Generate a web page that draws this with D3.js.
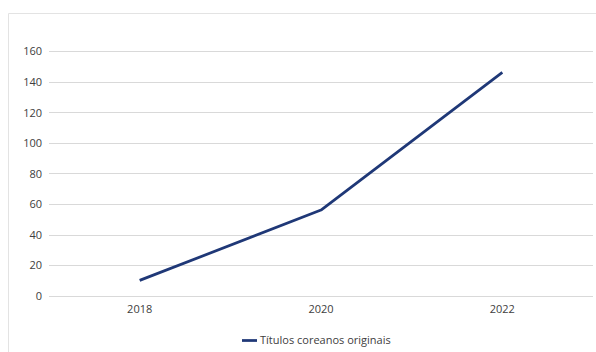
<!DOCTYPE html>
<html>
<head>
<meta charset="utf-8">
<script src="https://cdn.jsdelivr.net/npm/d3@7"></script>
<style>
html,body{margin:0;padding:0;background:#fff;}
svg{display:block;}
text{font-family:"Open Sans","Liberation Sans",sans-serif;fill:#404040;}
</style>
</head>
<body>
<svg id="chart" width="596" height="352"></svg>
<script>
const categories = ["2018", "2020", "2022"];
const values = [10, 56, 146];
const yTicks = [0, 20, 40, 60, 80, 100, 120, 140, 160];
const seriesName = "Títulos coreanos originais";

const svg = d3.select("#chart");

// chart area border
svg.append("path")
  .attr("d", "M8.5,352 L8.5,13.5 L596,13.5")
  .attr("fill", "none").attr("stroke", "#e3e3e3").attr("stroke-width", 1);

const x = d3.scaleBand().domain(categories).range([49, 593]);
const y = d3.scaleLinear().domain([0, 160]).range([295.7, 51]);

// gridlines
svg.append("g").selectAll("line").data(yTicks).join("line")
  .attr("x1", 49).attr("x2", 593)
  .attr("y1", d => Math.round(y(d)) + 0.5).attr("y2", d => Math.round(y(d)) + 0.5)
  .attr("stroke", "#d9d9d9").attr("stroke-width", 1);

// y axis
const yAxis = d3.axisLeft(y).tickValues(yTicks).tickSize(0).tickPadding(0);
const gy = svg.append("g").attr("transform", "translate(42,0)").call(yAxis);
gy.select(".domain").remove();
gy.selectAll("text").style("font-size", "11px").attr("fill", "#404040").attr("dy", "0.35em");

// x axis
const xAxis = d3.axisBottom(x).tickSize(0).tickPadding(0);
const gx = svg.append("g").attr("transform", "translate(0,305)").call(xAxis);
gx.select(".domain").remove();
gx.selectAll("text").style("font-size", "11px").attr("fill", "#404040").attr("dy", "0.71em");

// line
const line = d3.line()
  .x((d, i) => x(categories[i]) + x.bandwidth() / 2)
  .y(d => y(d));
svg.append("path").datum(values)
  .attr("d", line)
  .attr("fill", "none").attr("stroke", "#1f3877").attr("stroke-width", 2.75)
  .attr("stroke-linejoin", "round");

// legend
const lg = svg.append("g").attr("transform", "translate(242,340.5)");
lg.append("line").attr("x1", 0).attr("x2", 15).attr("y1", 0).attr("y2", 0)
  .attr("stroke", "#1f3877").attr("stroke-width", 2.75);
lg.append("text").attr("x", 18).attr("y", 0).attr("dy", "0.35em")
  .style("font-size", "11px").attr("fill", "#404040").text(seriesName);
</script>
</body>
</html>
